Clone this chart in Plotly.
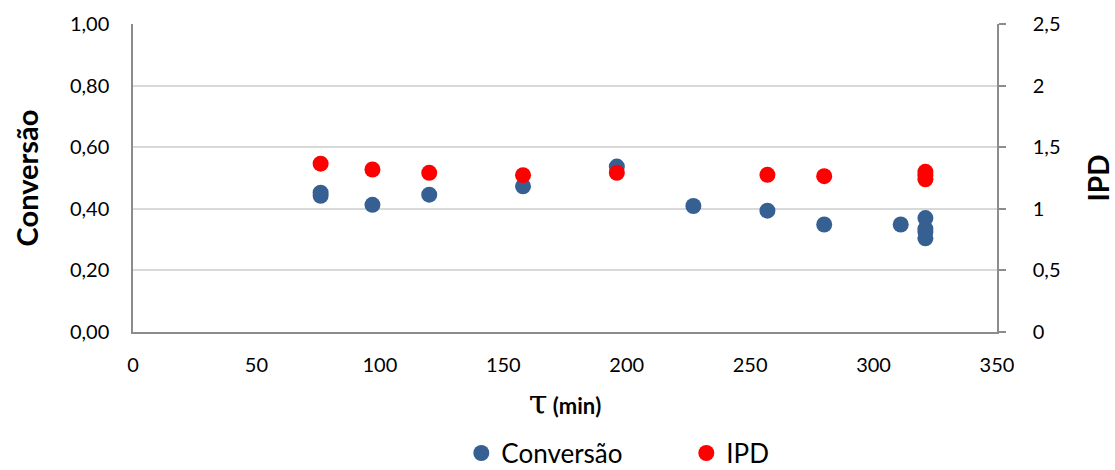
import plotly.graph_objects as go

# Residence time tau (min) and measured conversion / polydispersity index
tau_conv = [76, 76, 97, 120, 158, 196, 227, 257, 280, 311, 321, 321, 321, 321]
conversao = [0.452, 0.442, 0.413, 0.446, 0.473, 0.537, 0.409, 0.394, 0.349, 0.349,
             0.370, 0.335, 0.325, 0.304]

tau_ipd = [76, 97, 120, 158, 196, 257, 280, 321, 321, 321]
ipd = [1.366, 1.319, 1.292, 1.273, 1.292, 1.276, 1.265, 1.30, 1.27, 1.24]

x_ticks = [0, 50, 100, 150, 200, 250, 300, 350]
y1_ticks = [0.0, 0.2, 0.4, 0.6, 0.8, 1.0]
y1_labels = ["0,00", "0,20", "0,40", "0,60", "0,80", "1,00"]
y2_ticks = [0, 0.5, 1, 1.5, 2, 2.5]
y2_labels = ["0", "0,5", "1", "1,5", "2", "2,5"]

FONT = "Lato, 'Open Sans', sans-serif"
AXIS_GREY = "#8c8c8c"
GRID_GREY = "#d9d9d9"

fig = go.Figure()
fig.add_trace(go.Scatter(
    x=tau_conv, y=conversao, mode="markers", name="Conversão",
    marker=dict(size=16, color="#376092", line=dict(width=0)),
    yaxis="y",
))
fig.add_trace(go.Scatter(
    x=tau_ipd, y=ipd, mode="markers", name="IPD",
    marker=dict(size=16, color="#ff0000", line=dict(width=0)),
    yaxis="y2",
))

fig.update_layout(
    width=1115, height=470,
    margin=dict(l=133, r=118, t=24, b=138, autoexpand=False),
    paper_bgcolor="white", plot_bgcolor="white",
    font=dict(family=FONT, size=20, color="#000000"),
    showlegend=True,
    legend=dict(
        orientation="h", x=0.380, xanchor="left",
        yref="container", y=0.036, yanchor="middle",
        font=dict(size=26), itemsizing="trace", entrywidth=180,
        entrywidthmode="pixels",
    ),
    xaxis=dict(
        range=[0, 350], tickvals=x_ticks, ticktext=[str(v) for v in x_ticks],
        showgrid=False, zeroline=False, showline=True, linecolor=AXIS_GREY,
        linewidth=1.5, ticks="", ticklabelstandoff=14, automargin=False,
        title=dict(
            text="<span style=\"font-family:'DejaVu Serif';font-size:34px\">τ</span>"
                 "<b> (min)</b>",
            font=dict(size=22), standoff=24,
        ),
    ),
    yaxis=dict(
        range=[0, 1.0], tickvals=y1_ticks, ticktext=y1_labels,
        showgrid=True, gridcolor=GRID_GREY, gridwidth=1.5, zeroline=False,
        showline=True, linecolor=AXIS_GREY, linewidth=1.5, ticks="",
        ticklabelstandoff=18, automargin=False,
        title=dict(text="<b>Conversão</b>", font=dict(size=29), standoff=23),
    ),
    yaxis2=dict(
        range=[0, 2.5], tickvals=y2_ticks, ticktext=y2_labels,
        overlaying="y", side="right", showgrid=False, zeroline=False,
        showline=True, linecolor=AXIS_GREY, linewidth=1.5,
        ticks="outside", ticklen=7, tickcolor=AXIS_GREY, tickwidth=1.5,
        ticklabelstandoff=23, automargin=False,
        title=dict(text="<b>IPD</b>", font=dict(size=28), standoff=31),
    ),
)

fig.write_html("out.html")
